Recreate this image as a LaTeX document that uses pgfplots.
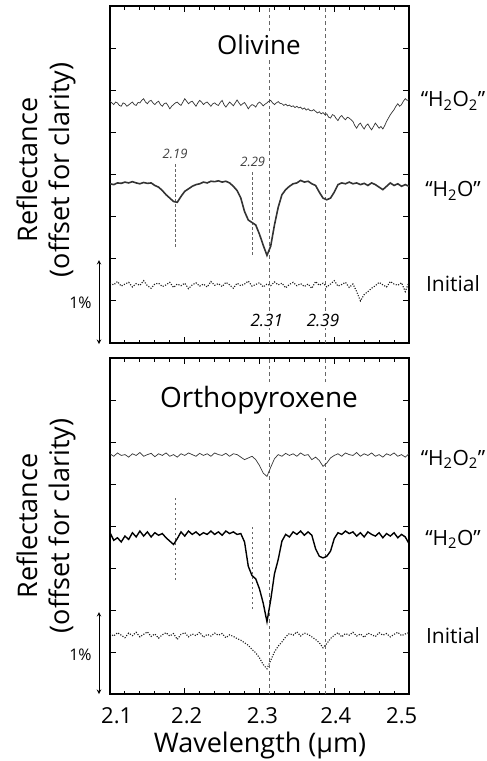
\documentclass[border=0pt]{standalone}
\usepackage{fontspec}
\setmainfont{Open Sans}
\usepackage{pgfplots}
\usepackage{pgfplotstable}
\pgfplotsset{compat=1.18}

% Olivine "H2O2" (dense)
\pgfplotstableread{
x y
2.1000 5.74
2.1025 5.70
2.1050 5.66
2.1075 5.72
2.1100 5.70
2.1125 5.64
2.1150 5.62
2.1175 5.70
2.1200 5.68
2.1225 5.62
2.1250 5.65
2.1275 5.69
2.1300 5.72
2.1325 5.66
2.1350 5.64
2.1375 5.71
2.1400 5.70
2.1425 5.76
2.1450 5.80
2.1475 5.72
2.1500 5.68
2.1525 5.74
2.1550 5.76
2.1575 5.70
2.1600 5.66
2.1625 5.71
2.1650 5.74
2.1675 5.66
2.1700 5.62
2.1725 5.68
2.1750 5.70
2.1775 5.64
2.1800 5.56
2.1825 5.62
2.1850 5.66
2.1875 5.70
2.1900 5.72
2.1925 5.67
2.1950 5.64
2.1975 5.72
2.2000 5.80
2.2025 5.74
2.2050 5.68
2.2075 5.72
2.2100 5.74
2.2125 5.68
2.2150 5.62
2.2175 5.70
2.2200 5.76
2.2225 5.72
2.2250 5.66
2.2275 5.70
2.2300 5.72
2.2325 5.67
2.2350 5.62
2.2375 5.68
2.2400 5.70
2.2425 5.66
2.2450 5.64
2.2475 5.71
2.2500 5.76
2.2525 5.66
2.2550 5.60
2.2575 5.66
2.2600 5.72
2.2625 5.68
2.2650 5.63
2.2675 5.70
2.2700 5.77
2.2725 5.70
2.2750 5.64
2.2775 5.68
2.2800 5.71
2.2825 5.64
2.2850 5.56
2.2875 5.62
2.2900 5.66
2.2925 5.64
2.2950 5.60
2.2975 5.68
2.3000 5.72
2.3025 5.68
2.3050 5.63
2.3075 5.67
2.3100 5.70
2.3125 5.74
2.3150 5.76
2.3175 5.70
2.3200 5.66
2.3225 5.70
2.3250 5.73
2.3275 5.69
2.3300 5.68
2.3325 5.64
2.3350 5.67
2.3375 5.63
2.3400 5.65
2.3425 5.61
2.3450 5.63
2.3475 5.59
2.3500 5.62
2.3525 5.58
2.3550 5.60
2.3575 5.55
2.3600 5.58
2.3625 5.53
2.3650 5.56
2.3675 5.52
2.3700 5.51
2.3725 5.54
2.3750 5.50
2.3775 5.46
2.3800 5.49
2.3825 5.44
2.3850 5.47
2.3875 5.42
2.3900 5.44
2.3925 5.36
2.3950 5.34
2.3975 5.42
2.4000 5.40
2.4025 5.33
2.4050 5.28
2.4075 5.36
2.4100 5.40
2.4125 5.34
2.4150 5.30
2.4175 5.36
2.4200 5.34
2.4225 5.30
2.4250 5.26
2.4275 5.16
2.4300 5.10
2.4325 5.18
2.4350 5.22
2.4375 5.14
2.4400 5.08
2.4425 5.16
2.4450 5.20
2.4475 5.12
2.4500 5.06
2.4525 5.14
2.4550 5.22
2.4575 5.16
2.4600 5.10
2.4625 5.14
2.4650 5.08
2.4675 5.16
2.4700 5.26
2.4725 5.34
2.4750 5.42
2.4775 5.48
2.4800 5.54
2.4825 5.62
2.4850 5.68
2.4875 5.62
2.4900 5.66
2.4925 5.74
2.4950 5.80
2.4975 5.76
2.5000 5.78
}\olivA

% Olivine "H2O" (b) and Initial (c)
\pgfplotstableread{
x b c
2.100 3.78 1.42
2.105 3.76 1.38
2.110 3.80 1.46
2.115 3.79 1.35
2.120 3.82 1.40
2.125 3.80 1.44
2.130 3.83 1.33
2.135 3.80 1.41
2.140 3.78 1.37
2.145 3.81 1.48
2.150 3.79 1.36
2.155 3.80 1.30
2.160 3.74 1.40
2.165 3.70 1.42
2.170 3.62 1.34
2.175 3.52 1.38
2.180 3.44 1.44
2.185 3.36 1.32
2.190 3.34 1.40
2.195 3.48 1.36
2.200 3.60 1.42
2.205 3.66 1.29
2.210 3.72 1.38
2.215 3.76 1.43
2.220 3.78 1.35
2.225 3.82 1.40
2.230 3.80 1.33
2.235 3.84 1.46
2.240 3.83 1.37
2.245 3.85 1.41
2.250 3.82 1.34
2.255 3.84 1.44
2.260 3.80 1.38
2.265 3.72 1.30
2.270 3.62 1.42
2.275 3.44 1.36
2.280 3.12 1.40
2.285 2.92 1.47
2.290 2.86 1.35
2.295 2.80 1.39
2.300 2.58 1.43
2.305 2.32 1.33
2.310 2.08 1.40
2.315 2.30 1.36
2.320 2.80 1.45
2.325 3.22 1.38
2.330 3.52 1.42
2.335 3.64 1.31
2.340 3.72 1.39
2.345 3.78 1.44
2.350 3.80 1.36
2.355 3.86 1.41
2.360 3.82 1.34
2.365 3.84 1.40
2.370 3.78 1.30
2.375 3.74 1.46
2.380 3.58 1.37
2.385 3.44 1.42
2.390 3.40 1.33
2.395 3.44 1.40
2.400 3.58 1.48
2.405 3.76 1.35
2.410 3.80 1.39
2.415 3.78 1.44
2.420 3.82 1.32
2.425 3.78 1.40
2.430 3.80 1.22
2.435 3.76 1.00
2.440 3.79 1.15
2.445 3.74 1.22
2.450 3.80 1.30
2.455 3.76 1.36
2.460 3.70 1.44
2.465 3.64 1.38
2.470 3.72 1.33
2.475 3.80 1.46
2.480 3.74 1.40
2.485 3.78 1.37
2.490 3.72 1.43
2.495 3.76 1.22
2.500 3.72 1.45
}\olivine

% Orthopyroxene: "H2O2" (a), "H2O" (b), Initial (c)
\pgfplotstableread{
x a b c
2.100 5.72 3.84 1.44
2.105 5.66 3.66 1.38
2.110 5.74 3.72 1.46
2.115 5.68 3.62 1.40
2.120 5.70 3.76 1.34
2.125 5.64 3.68 1.45
2.130 5.72 3.84 1.39
2.135 5.68 3.74 1.47
2.140 5.75 3.88 1.36
2.145 5.66 3.76 1.42
2.150 5.70 3.86 1.48
2.155 5.73 3.74 1.37
2.160 5.65 3.84 1.43
2.165 5.72 3.78 1.33
2.170 5.68 3.82 1.41
2.175 5.74 3.72 1.46
2.180 5.66 3.64 1.38
2.185 5.70 3.56 1.44
2.190 5.64 3.70 1.30
2.195 5.72 3.86 1.42
2.200 5.68 3.76 1.46
2.205 5.74 3.88 1.36
2.210 5.70 3.80 1.43
2.215 5.66 3.86 1.39
2.220 5.73 3.78 1.47
2.225 5.68 3.84 1.35
2.230 5.72 3.80 1.42
2.235 5.66 3.88 1.38
2.240 5.74 3.80 1.45
2.245 5.70 3.86 1.40
2.250 5.68 3.78 1.44
2.255 5.73 3.88 1.34
2.260 5.66 3.82 1.41
2.265 5.72 3.86 1.37
2.270 5.70 3.80 1.32
2.275 5.64 3.82 1.28
2.280 5.58 3.62 1.22
2.285 5.62 3.04 1.16
2.290 5.66 2.82 1.06
2.295 5.58 2.74 0.98
2.300 5.44 2.50 0.86
2.305 5.26 2.16 0.70
2.310 5.18 1.72 0.60
2.315 5.40 2.24 0.80
2.320 5.60 2.86 1.00
2.325 5.70 3.20 1.14
2.330 5.66 3.64 1.24
2.335 5.73 3.80 1.36
2.340 5.68 3.74 1.44
2.345 5.72 3.86 1.40
2.350 5.66 3.80 1.48
2.355 5.74 3.88 1.38
2.360 5.68 3.78 1.45
2.365 5.70 3.86 1.42
2.370 5.58 3.78 1.36
2.375 5.64 3.46 1.30
2.380 5.56 3.28 1.22
2.385 5.42 3.24 1.10
2.390 5.50 3.28 1.20
2.395 5.62 3.40 1.32
2.400 5.68 3.70 1.40
2.405 5.72 3.84 1.46
2.410 5.66 3.80 1.36
2.415 5.74 3.88 1.44
2.420 5.70 3.82 1.40
2.425 5.68 3.86 1.47
2.430 5.75 3.76 1.38
2.435 5.66 3.84 1.43
2.440 5.72 3.74 1.35
2.445 5.68 3.86 1.45
2.450 5.74 3.80 1.41
2.455 5.66 3.76 1.37
2.460 5.70 3.84 1.46
2.465 5.64 3.72 1.40
2.470 5.72 3.82 1.44
2.475 5.68 3.76 1.36
2.480 5.74 3.84 1.42
2.485 5.66 3.72 1.47
2.490 5.70 3.80 1.39
2.495 5.64 3.74 1.43
2.500 5.72 3.58 1.46
}\ortho

\tikzset{
  dline/.style={black!60, line width=0.8pt, dash pattern=on 3.5pt off 3pt},
  sline/.style={black!60, line width=0.8pt, dash pattern=on 2.5pt off 2.5pt},
}
\pgfplotsset{
  panel/.style={
    scale only axis, width=299pt,
    xmin=2.1, xmax=2.5, ymin=0, ymax=8,
    xtick={2.1,2.2,2.3,2.4,2.5}, minor x tick num=4,
    xticklabels={},
    ytick={1,2,3,4,5,6,7}, yticklabels={},
    tick align=inside,
    major tick length=6pt, minor tick length=3.5pt,
    axis line style={line width=1.3pt},
    major tick style={line width=1pt, black},
    minor tick style={line width=1pt, black},
  },
  thinser/.style={black!80, line width=0.7pt},
  thickser/.style={black!80, line width=1.6pt},
  initser/.style={black!90, line width=1.1pt, dash pattern=on 1.1pt off 1.5pt},
}

\begin{document}
\begin{tikzpicture}
\useasboundingbox (0pt,-761pt) rectangle (487pt,0pt);

% ---------------- Olivine ----------------
\begin{axis}[panel, at={(110pt,-6pt)}, anchor=north west, height=337pt]
\draw[dline] (axis cs:2.3127,0) -- (axis cs:2.3127,8);
\draw[dline] (axis cs:2.3876,0) -- (axis cs:2.3876,8);
\draw[sline] (axis cs:2.187,2.28) -- (axis cs:2.187,4.27);
\draw[sline] (axis cs:2.291,2.09) -- (axis cs:2.291,4.06);
\addplot[thinser] table[x=x,y=y] {\olivA};
\addplot[thickser] table[x=x,y=b] {\olivine};
\addplot[initser] table[x=x,y=c] {\olivine};
\node[fill=white, inner sep=2pt, anchor=base, font=\fontsize{26}{26}\selectfont] at (axis cs:2.2993,6.84) {Olivine};
\node[fill=white, inner sep=1pt, anchor=base, font=\fontsize{17}{17}\selectfont\itshape] at (axis cs:2.3097,0.38) {2.31};
\node[fill=white, inner sep=1pt, anchor=base, font=\fontsize{17}{17}\selectfont\itshape] at (axis cs:2.385,0.38) {2.39};
\node[inner sep=1pt, anchor=base, font=\fontsize{13}{13}\selectfont\itshape, text=black!75] at (axis cs:2.187,4.37) {2.19};
\node[inner sep=1pt, anchor=base, font=\fontsize{13}{13}\selectfont\itshape, text=black!75] at (axis cs:2.291,4.18) {2.29};
\end{axis}

% ---------------- Orthopyroxene ----------------
\begin{axis}[panel, at={(110pt,-358pt)}, anchor=north west, height=336pt]
\draw[dline] (axis cs:2.3127,0) -- (axis cs:2.3127,8);
\draw[dline] (axis cs:2.3876,0) -- (axis cs:2.3876,8);
\draw[sline] (axis cs:2.187,2.71) -- (axis cs:2.187,4.69);
\draw[sline] (axis cs:2.291,2.02) -- (axis cs:2.291,4.02);
\addplot[thinser] table[x=x,y=a] {\ortho};
\addplot[black, line width=1.4pt] table[x=x,y=b] {\ortho};
\addplot[initser] table[x=x,y=c] {\ortho};
\node[fill=white, inner sep=2pt, anchor=base, font=\fontsize{28}{28}\selectfont] at (axis cs:2.2993,6.81) {Orthopyroxene};
\end{axis}

% ---------------- annotations ----------------
\foreach \yc in {-170,-526}{
  \node[rotate=90, align=center, font=\fontsize{27}{32}\selectfont] at (46pt,\yc pt) {Reflectance\\(offset for clarity)};
}
\draw[<->, >=stealth, line width=1pt] (99pt,-260pt) -- (99pt,-344pt);
\draw[<->, >=stealth, line width=1pt] (99pt,-612pt) -- (99pt,-694pt);
\node[font=\fontsize{16}{16}\selectfont] at (80.5pt,-303pt) {1\%};
\node[font=\fontsize{16}{16}\selectfont] at (80.5pt,-655pt) {1\%};

\node[anchor=base, font=\fontsize{21}{21}\selectfont] at (453pt,-106.7pt) {“H\textsubscript{2}O\textsubscript{2}”};
\node[anchor=base, font=\fontsize{21}{21}\selectfont] at (453pt,-196.7pt) {“H\textsubscript{2}O”};
\node[anchor=base, font=\fontsize{21}{21}\selectfont] at (453pt,-291.7pt) {Initial};
\node[anchor=base, font=\fontsize{21}{21}\selectfont] at (453pt,-465pt) {“H\textsubscript{2}O\textsubscript{2}”};
\node[anchor=base, font=\fontsize{21}{21}\selectfont] at (453pt,-545pt) {“H\textsubscript{2}O”};
\node[anchor=base, font=\fontsize{21}{21}\selectfont] at (453pt,-643pt) {Initial};

% x tick labels
\foreach \xp/\lab in {116.7/2.1, 186.7/2.2, 262.5/2.3, 335.8/2.4, 401.7/2.5}{
  \node[anchor=base, font=\fontsize{22}{22}\selectfont] at (\xp pt,-723pt) {\lab};
}
\node[anchor=base, font=\fontsize{27}{27}\selectfont] at (260pt,-752pt) {Wavelength (µm)};
\end{tikzpicture}
\end{document}
